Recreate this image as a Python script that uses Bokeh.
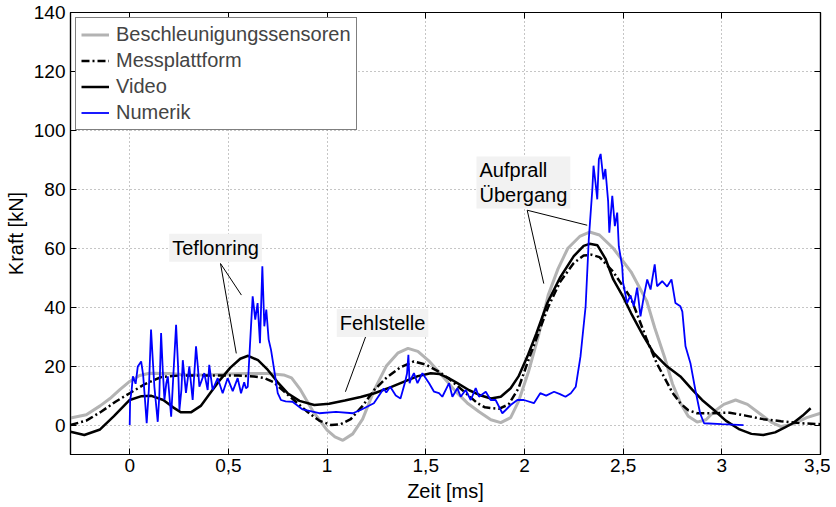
from bokeh.plotting import figure
from bokeh.models import (Range1d, FixedTicker, LinearAxis, CustomJSTickFormatter,
                          Legend, LegendItem, Label)
from bokeh.embed import file_html
from bokeh.resources import INLINE

# ---------------- data ----------------
acc_t = [-0.30, -0.22, -0.15, -0.10, -0.05, 0.00, 0.05, 0.10, 0.20, 0.30, 0.40, 0.50, 0.60,
         0.70, 0.78, 0.82, 0.865, 0.93, 1.00, 1.04, 1.08, 1.13, 1.18, 1.24, 1.30, 1.36, 1.41,
         1.46, 1.52, 1.58, 1.65, 1.71, 1.77, 1.83, 1.88, 1.93, 1.97, 2.02, 2.07, 2.12, 2.17,
         2.22, 2.28, 2.33, 2.38, 2.45, 2.54, 2.58, 2.62, 2.66, 2.71, 2.75, 2.79, 2.83, 2.875,
         2.92, 2.96, 3.01, 3.07, 3.13, 3.20, 3.25, 3.30, 3.36, 3.43, 3.50]
acc_f = [2.4, 3.5, 6.5, 9.0, 12.0, 14.8, 16.8, 17.6, 17.5, 17.0, 17.0, 17.3, 17.5,
         17.5, 17.0, 16.0, 12.0, 4.5, -1.7, -4.0, -5.2, -3.0, 2.0, 12.0, 20.0, 24.5, 26.0,
         25.0, 21.5, 17.0, 11.5, 7.5, 4.5, 1.8, 0.8, 2.5, 8.0, 18.0, 30.0, 44.0, 53.0,
         60.0, 64.0, 65.5, 64.5, 60.0, 52.0, 47.0, 42.0, 33.0, 23.0, 14.0, 7.5, 3.0, 1.0,
         1.8, 4.5, 7.0, 8.5, 7.0, 3.5, 1.0, -0.5, 0.3, 2.5, 4.0]

plat_t = [-0.30, -0.22, -0.145, -0.07, 0.00, 0.08, 0.16, 0.25, 0.33, 0.45, 0.55, 0.63, 0.68,
          0.73, 0.78, 0.84, 0.90, 0.96, 1.02, 1.07, 1.12, 1.18, 1.24, 1.30, 1.37, 1.44, 1.50,
          1.57, 1.63, 1.70, 1.76, 1.80, 1.87, 1.92, 1.97, 2.02, 2.07, 2.12, 2.18, 2.25, 2.30,
          2.34, 2.38, 2.45, 2.54, 2.62, 2.67, 2.71, 2.75, 2.79, 2.83, 2.875, 2.95, 3.04, 3.12,
          3.21, 3.30, 3.40, 3.50]
plat_f = [0.0, 1.5, 4.5, 8.0, 10.8, 14.0, 16.3, 16.8, 16.8, 16.8, 16.8, 16.5, 16.0,
          14.5, 11.5, 8.0, 4.5, 1.5, 0.0, 0.3, 2.0, 6.5, 12.0, 16.0, 19.5, 21.6, 20.5,
          18.0, 15.0, 11.0, 7.5, 6.0, 5.5, 7.0, 12.5, 22.0, 31.0, 40.0, 48.5, 55.0, 57.5,
          57.8, 57.0, 52.0, 43.0, 29.0, 21.0, 16.0, 11.0, 7.4, 5.0, 4.0, 4.0, 4.2, 3.2,
          2.0, 1.3, 0.6, 0.3]

vid_t = [-0.30, -0.23, -0.15, -0.08, 0.00, 0.06, 0.11, 0.17, 0.22, 0.26, 0.31, 0.36, 0.41,
         0.46, 0.51, 0.56, 0.60, 0.65, 0.70, 0.75, 0.80, 0.86, 0.935, 1.01, 1.09, 1.17, 1.24,
         1.32, 1.40, 1.46, 1.525, 1.57, 1.62, 1.66, 1.72, 1.78, 1.83, 1.88, 1.93, 1.97, 2.015,
         2.06, 2.116, 2.18, 2.25, 2.30, 2.33, 2.37, 2.41, 2.45, 2.50, 2.54, 2.60, 2.655, 2.72,
         2.79, 2.85, 2.90, 2.96, 3.02, 3.09, 3.15, 3.21, 3.27, 3.32, 3.36, 3.41, 3.45]
vid_f = [-2.3, -3.4, -1.5, 3.0, 8.5, 9.8, 9.9, 8.5, 6.0, 4.3, 4.3, 6.5, 11.0,
         15.5, 19.5, 22.5, 23.5, 22.0, 18.7, 14.5, 10.8, 8.2, 6.8, 7.2, 8.3, 9.5, 10.8,
         12.8, 15.0, 16.6, 17.6, 17.3, 15.8, 14.2, 11.8, 10.0, 9.0, 9.6, 12.5, 16.5, 23.3,
         31.0, 41.4, 50.0, 57.3, 60.8, 61.5, 61.0, 56.5, 49.4, 43.5, 38.0, 30.5, 24.4, 20.0,
         16.5, 12.0, 8.5, 5.1, 1.5, -1.5, -3.0, -3.4, -2.5, -0.8, 0.6, 3.2, 5.7]

num_t = [0.000, 0.002, 0.010, 0.016, 0.030, 0.041, 0.058, 0.068, 0.075, 0.086, 0.097, 0.108,
         0.117, 0.125, 0.142, 0.150, 0.159, 0.168, 0.176, 0.185, 0.193, 0.210, 0.222, 0.235,
         0.245, 0.252, 0.262, 0.269, 0.285, 0.302, 0.319, 0.336, 0.345, 0.353, 0.378, 0.395,
         0.403, 0.420, 0.446, 0.471, 0.496, 0.522, 0.547, 0.564, 0.580, 0.589, 0.598, 0.609,
         0.623, 0.636, 0.648, 0.660, 0.672, 0.682, 0.692, 0.704, 0.716, 0.732, 0.750, 0.766,
         0.790, 0.825, 0.876, 0.960, 1.045, 1.130, 1.170, 1.237, 1.287, 1.300, 1.320, 1.348,
         1.372, 1.395, 1.405, 1.412, 1.418, 1.424, 1.440, 1.458, 1.483, 1.517, 1.542, 1.567,
         1.584, 1.618, 1.635, 1.660, 1.677, 1.702, 1.728, 1.753, 1.770, 1.804, 1.829, 1.854,
         1.888, 1.905, 1.930, 1.964, 1.997, 2.048, 2.080, 2.110, 2.150, 2.180, 2.208, 2.235,
         2.260, 2.284, 2.310, 2.326, 2.344, 2.350, 2.360, 2.369, 2.377, 2.386, 2.400, 2.410,
         2.424, 2.430, 2.445, 2.458, 2.470, 2.478, 2.495, 2.500, 2.520, 2.537, 2.554, 2.571,
         2.588, 2.605, 2.622, 2.639, 2.660, 2.672, 2.698, 2.723, 2.745, 2.765, 2.790, 2.800,
         2.816, 2.841, 2.866, 2.890, 2.910, 3.000, 3.110]
num_f = [0.0, 8.0, 12.0, 16.5, 14.0, 19.9, 21.6, 17.0, 10.8, 0.6, 12.0, 32.4,
         22.0, 13.0, 1.1, 10.0, 31.2, 18.0, 8.5, 14.0, 16.5, 2.8, 18.0, 34.0,
         20.0, 5.1, 12.0, 22.0, 10.9, 19.9, 8.5, 26.7, 20.0, 13.0, 17.6, 11.9,
         20.4, 11.9, 15.9, 10.8, 15.9, 11.5, 15.9, 10.8, 14.5, 12.5, 13.0, 26.7,
         43.7, 35.8, 41.4, 27.8, 53.9, 33.5, 39.2, 29.0, 25.5, 18.7, 10.8, 8.5,
         8.0, 7.9, 5.3, 4.0, 4.5, 4.0, 5.1, 7.4, 12.4, 11.0, 13.0, 10.0,
         9.0, 14.5, 17.5, 23.8, 14.2, 15.5, 17.6, 14.2, 17.6, 14.2, 11.3, 10.8,
         9.6, 14.2, 9.6, 12.5, 9.6, 11.9, 8.5, 12.5, 9.6, 11.3, 8.5, 8.5,
         4.0, 5.1, 6.8, 8.5, 8.5, 7.4, 10.8, 10.0, 11.3, 10.5, 9.6, 10.8,
         13.0, 23.3, 40.3, 63.0, 80.0, 88.0, 82.3, 76.6, 90.2, 92.0, 83.4, 86.9,
         75.9, 65.3, 77.8, 67.5, 72.1, 60.7, 53.9, 48.3, 41.4, 44.0, 40.3, 46.6,
         36.9, 43.7, 49.4, 46.0, 54.5, 47.1, 48.8, 47.0, 49.4, 41.4, 40.3, 38.5,
         26.7, 21.0, 11.9, 4.0, 0.6, 0.3, 0.0]

series_names = ["Beschleunigungssensoren", "Messplattform", "Video", "Numerik"]
x_ticks = [0, 0.5, 1, 1.5, 2, 2.5, 3, 3.5]
y_ticks = [0, 20, 40, 60, 80, 100, 120, 140]

# annotations: text, text position, pointer lines (start -> ends)
ann_texts = ["Teflonring", "Fehlstelle", "Aufprall\nÜbergang"]
ann_pos = [(0.435, 60.2, "center"), (1.281, 34.6, "center"), (1.757, 82.3, "left")]
ann_x0 = [0.46, 0.46, 1.195, 2.014, 2.014]
ann_y0 = [54.8, 54.8, 29.9, 72.9, 72.9]
ann_x1 = [0.566, 0.540, 1.093, 2.318, 2.098]
ann_y1 = [44.1, 24.3, 11.3, 67.8, 48.0]

FONT = "Liberation Sans"

p = figure(width=830, height=505, x_range=Range1d(-0.3, 3.5), y_range=Range1d(-10, 140),
           output_backend="svg", toolbar_location=None,
           min_border_left=70, min_border_right=10, min_border_top=12, min_border_bottom=51,
           outline_line_color="black", outline_line_width=1.2)
p.background_fill_color = "white"

# axes
for ax in (p.xaxis[0], p.yaxis[0]):
    ax.major_tick_in = 6
    ax.major_tick_out = 0
    ax.minor_tick_in = 0
    ax.minor_tick_out = 0
    ax.axis_line_color = "black"
    ax.axis_line_width = 1.2
    ax.major_tick_line_width = 1
    ax.major_label_text_font = FONT
    ax.major_label_text_font_size = "19px"
    ax.major_label_text_color = "black"
    ax.axis_label_text_font = FONT
    ax.axis_label_text_font_size = "20px"
    ax.axis_label_text_font_style = "normal"
    ax.axis_label_text_color = "black"
p.xaxis.ticker = FixedTicker(ticks=x_ticks)
p.yaxis.ticker = FixedTicker(ticks=y_ticks)
p.xaxis.formatter = CustomJSTickFormatter(code="return tick.toString().replace('.', ',');")
p.xaxis.axis_label = "Zeit [ms]"
p.yaxis.axis_label = "Kraft [kN]"
p.xaxis.major_label_standoff = 4
p.xaxis.axis_label_standoff = 5
p.yaxis.major_label_standoff = 5
p.yaxis.axis_label_standoff = 4

# mirrored axes (ticks only)
top = LinearAxis(ticker=FixedTicker(ticks=x_ticks),
                 formatter=CustomJSTickFormatter(code="return '';"))
right = LinearAxis(ticker=FixedTicker(ticks=y_ticks),
                   formatter=CustomJSTickFormatter(code="return '';"))
for ax in (top, right):
    ax.major_tick_in = 6
    ax.major_tick_out = 0
    ax.minor_tick_in = 0
    ax.minor_tick_out = 0
    ax.major_label_standoff = 0
    ax.major_label_text_font_size = "0px"
    ax.axis_line_color = "black"
    ax.axis_line_width = 1.2
p.add_layout(top, "above")
p.add_layout(right, "right")

# grid
p.xgrid.ticker = FixedTicker(ticks=x_ticks)
p.ygrid.ticker = FixedTicker(ticks=y_ticks)
for g in (p.xgrid[0], p.ygrid[0]):
    g.grid_line_color = "#8c8c8c"
    g.grid_line_dash = "1 3"
    g.grid_line_width = 1

# curves
r_acc = p.line(acc_t, acc_f, line_color="#b3b3b3", line_width=3)
r_plat = p.line(plat_t, plat_f, line_color="black", line_width=2.5, line_dash="8 3 2 3")
r_vid = p.line(vid_t, vid_f, line_color="black", line_width=2.5)
r_num = p.line(num_t, num_f, line_color="#0000ff", line_width=1.8)

# annotation pointer lines
p.segment(x0=ann_x0, y0=ann_y0, x1=ann_x1, y1=ann_y1, line_color="black", line_width=1)

for txt, (ax_, ay_, al) in zip(ann_texts, ann_pos):
    lab = Label(x=ax_, y=ay_, text=txt, text_align=al, text_baseline="middle",
                text_font=FONT, text_font_size="20px", text_color="black",
                text_line_height=1.1,
                background_fill_color="#f2f2f2", background_fill_alpha=1.0, padding=3)
    p.add_layout(lab)

legend = Legend(items=[LegendItem(label=series_names[0], renderers=[r_acc]),
                       LegendItem(label=series_names[1], renderers=[r_plat]),
                       LegendItem(label=series_names[2], renderers=[r_vid]),
                       LegendItem(label=series_names[3], renderers=[r_num])],
                location="top_left", margin=5, padding=5, spacing=3,
                glyph_height=23, glyph_width=28, label_standoff=7, label_height=23,
                label_text_font=FONT, label_text_font_size="20px",
                border_line_color="black", border_line_width=1.2,
                background_fill_color="white", background_fill_alpha=1.0)
p.add_layout(legend)

open("out.html", "w").write(file_html(p, INLINE))
